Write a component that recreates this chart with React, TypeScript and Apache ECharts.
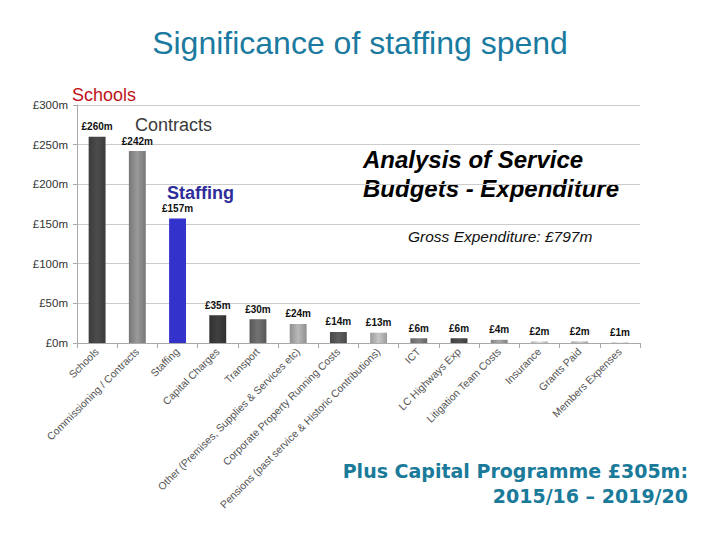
import React, { useEffect, useRef } from "react";
import * as echarts from "echarts";

const categories = [
  "Schools",
  "Commissioning / Contracts",
  "Staffing",
  "Capital Charges",
  "Transport",
  "Other (Premises, Supplies & Services etc)",
  "Corporate Property Running Costs",
  "Pensions (past service & Historic Contributions)",
  "ICT",
  "LC Highways Exp",
  "Litigation Team Costs",
  "Insurance",
  "Grants Paid",
  "Members Expenses",
];
const values = [260, 242, 157, 35, 30, 24, 14, 13, 6, 6, 4, 2, 2, 1];
const barColors = [
  "#454545", "#8c8c8c", "#3333cc", "#3a3a3a", "#686868", "#a8a8a8", "#555555",
  "#b5b5b5", "#777777", "#4a4a4a", "#999999", "#cfcfcf", "#bdbdbd", "#dddddd",
];
const yTicks = [0, 50, 100, 150, 200, 250, 300];

const FONT = "Liberation Sans, Arial, sans-serif";

function shade(hex: string, f: number) {
  const n = parseInt(hex.slice(1), 16);
  const r = Math.min(255, Math.round(((n >> 16) & 255) * f));
  const g = Math.min(255, Math.round(((n >> 8) & 255) * f));
  const b = Math.min(255, Math.round((n & 255) * f));
  return `rgb(${r},${g},${b})`;
}

export default function App() {
  const ref = useRef<HTMLDivElement>(null);
  useEffect(() => {
    if (!ref.current) return;
    const chart = echarts.init(ref.current, null, { renderer: "svg" });
    chart.setOption({
      animation: false,
      backgroundColor: "#ffffff",
      textStyle: { fontFamily: FONT },
      grid: { left: 77, right: 80, top: 105, bottom: 197, containLabel: false },
      xAxis: {
        type: "category",
        data: categories,
        axisLine: { lineStyle: { color: "#aaaaaa" } },
        axisTick: { show: true, alignWithLabel: false, lineStyle: { color: "#aaaaaa" } },
        axisLabel: {
          rotate: 45,
          interval: 0,
          color: "#555555",
          fontSize: 10.5,
          margin: 7,
        },
      },
      yAxis: {
        type: "value",
        min: yTicks[0],
        max: yTicks[yTicks.length - 1],
        interval: 50,
        axisLine: { show: true, lineStyle: { color: "#aaaaaa" } },
        axisTick: { show: true, lineStyle: { color: "#aaaaaa" }, length: 4 },
        splitLine: { lineStyle: { color: "#cccccc" } },
        axisLabel: {
          color: "#333333",
          fontSize: 11.5,
          margin: 9,
          formatter: (v: number) => `£${v}m`,
        },
      },
      series: [
        {
          type: "bar",
          barWidth: "42%",
          data: values.map((v, i) => ({
            value: v,
            itemStyle: {
              color:
                i === 2
                  ? "#3333cc"
                  : new echarts.graphic.LinearGradient(0, 0, 1, 0, [
                      { offset: 0, color: shade(barColors[i], 0.85) },
                      { offset: 0.5, color: shade(barColors[i], 1.1) },
                      { offset: 1, color: shade(barColors[i], 0.85) },
                    ]),
              borderColor: i === 2 ? "#3333cc" : "transparent",
              borderWidth: i === 2 ? 4 : 0,
            },
          })),
          label: {
            show: true,
            position: "top",
            distance: 5,
            color: "#111111",
            fontSize: 10,
            fontWeight: "bold",
            formatter: (p: any) => `£${p.value}m`,
          },
        },
      ],
      graphic: [
        {
          type: "text",
          left: "center",
          top: 27,
          style: {
            text: "Significance of staffing spend",
            fill: "#1a7aa0",
            fontSize: 32,
            fontFamily: FONT,
          },
        },
        {
          type: "text",
          x: 72,
          y: 86,
          style: { text: "Schools", fill: "#c0141c", fontSize: 18, fontFamily: FONT },
        },
        {
          type: "text",
          x: 135,
          y: 116,
          style: { text: "Contracts", fill: "#3a3a3a", fontSize: 18, fontFamily: FONT },
        },
        {
          type: "text",
          x: 167,
          y: 184,
          style: { text: "Staffing", fill: "#2e2e9a", fontSize: 18, fontWeight: "bold", fontFamily: FONT },
        },
        {
          type: "text",
          x: 363,
          y: 145,
          style: {
            text: "Analysis of Service\nBudgets - Expenditure",
            fill: "#000000",
            fontSize: 24,
            lineHeight: 29,
            fontWeight: "bold",
            fontStyle: "italic",
            fontFamily: FONT,
          },
        },
        {
          type: "text",
          x: 408,
          y: 228,
          style: {
            text: "Gross Expenditure: £797m",
            fill: "#111111",
            fontSize: 15.5,
            fontStyle: "italic",
            fontFamily: FONT,
          },
        },
        {
          type: "text",
          right: 32,
          top: 461,
          style: {
            text: "Plus Capital Programme £305m:",
            fill: "#1a7a9a",
            fontSize: 19,
            fontWeight: "bold",
            fontFamily: "DejaVu Sans, sans-serif",
          },
        },
        {
          type: "text",
          right: 32,
          top: 486,
          style: {
            text: "2015/16 – 2019/20",
            fill: "#1a7a9a",
            fontSize: 19,
            fontWeight: "bold",
            fontFamily: "DejaVu Sans, sans-serif",
          },
        },
      ],
    });
    return () => chart.dispose();
  }, []);
  return <div ref={ref} style={{ width: 720, height: 540, position: "absolute", left: 0, top: 0 }} />;
}
